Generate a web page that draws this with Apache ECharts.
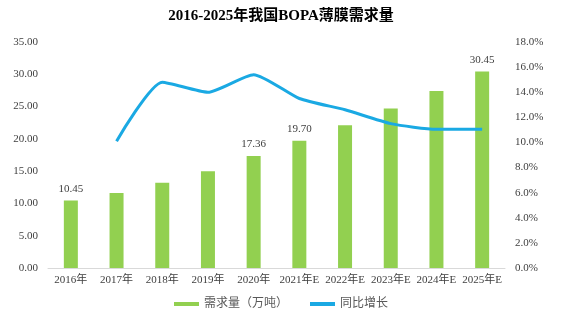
<!DOCTYPE html>
<html><head><meta charset="utf-8">
<script src="https://cdn.jsdelivr.net/npm/echarts@6/dist/echarts.min.js"></script>
<style>html,body{margin:0;padding:0;background:#fff}#c{width:562px;height:325px}</style>
</head><body><div id="c"></div>
<script>
var categories = ['2016年','2017年','2018年','2019年','2020年','2021年E','2022年E','2023年E','2024年E','2025年E'];
var demand = [10.45, 11.6, 13.2, 15.0, 17.36, 19.70, 22.1, 24.7, 27.4, 30.45];
var growth = [null, 10.1, 14.8, 14.0, 15.4, 13.5, 12.6, 11.5, 11.05, 11.05];
var labeledIdx = [0, 4, 5, 9];
var leftTicks = {min: 0, max: 35, interval: 5};
var rightTicks = {min: 0, max: 18, interval: 2};

var serif = "'Liberation Serif','Times New Roman','Noto Sans CJK SC',serif";
var chart = echarts.init(document.getElementById('c'));
chart.setOption({
  animation: false,
  title: {text: '2016-2025年我国BOPA薄膜需求量', left: 'center', top: 4,
    textStyle: {fontFamily: serif, fontSize: 15, fontWeight: 'bold', color: '#000'}},
  grid: {left: 48, right: 57, top: 42, bottom: 57},
  legend: {bottom: 10, left: 'center', itemGap: 22, itemWidth: 25, itemHeight: 4,
    textStyle: {fontFamily: serif, fontSize: 12, color: '#595959'},
    data: [{name: '需求量（万吨）', icon: 'rect'}, {name: '同比增长', icon: 'rect'}]},
  xAxis: {type: 'category', data: categories,
    axisLine: {lineStyle: {color: '#d9d9d9'}}, axisTick: {show: false},
    axisLabel: {interval: 0, fontFamily: serif, fontSize: 11, color: '#404040', margin: 7}},
  yAxis: [
    {type: 'value', min: leftTicks.min, max: leftTicks.max, interval: leftTicks.interval,
      splitLine: {show: false}, axisLine: {show: false}, axisTick: {show: false},
      axisLabel: {formatter: function(v){return v.toFixed(2);}, fontFamily: serif, fontSize: 11, color: '#404040', margin: 10}},
    {type: 'value', min: rightTicks.min, max: rightTicks.max, interval: rightTicks.interval,
      splitLine: {show: false}, axisLine: {show: false}, axisTick: {show: false},
      axisLabel: {formatter: function(v){return v.toFixed(1) + '%';}, fontFamily: serif, fontSize: 11, color: '#404040', margin: 10}}
  ],
  series: [
    {name: '需求量（万吨）', type: 'bar', barWidth: 14, itemStyle: {color: '#92d050'},
      data: demand.map(function(v, i){
        return {value: v, label: {show: labeledIdx.indexOf(i) >= 0, position: 'top', distance: 6,
          formatter: function(p){return p.value.toFixed(2);}, fontFamily: serif, fontSize: 11, color: '#404040'}};
      })},
    {name: '同比增长', type: 'line', yAxisIndex: 1, data: growth, symbol: 'none', smooth: 0.2,
      connectNulls: false,
      lineStyle: {color: '#1aa9e3', width: 3}, itemStyle: {color: '#1aa9e3'}}
  ]
});
</script></body></html>
